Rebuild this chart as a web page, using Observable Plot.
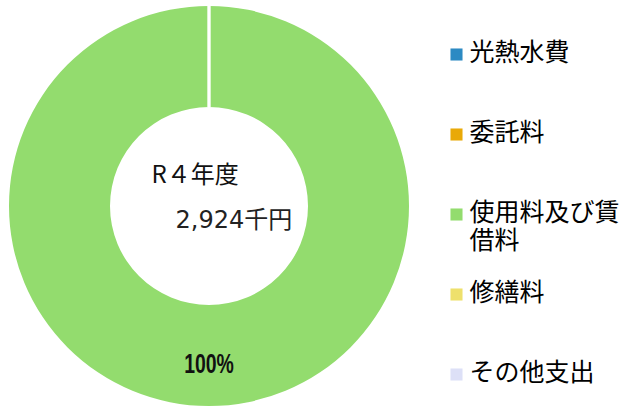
<!DOCTYPE html>
<html><head><meta charset="utf-8">
<script src="https://cdn.jsdelivr.net/npm/d3@7"></script>
<script src="https://cdn.jsdelivr.net/npm/@observablehq/plot@0.6"></script>
<style>
html,body{margin:0;padding:0;background:#fff;}
#chart svg{display:block;}
</style>
</head><body><div id="chart"></div>
<script>
// data
const categories = ["光熱水費", "委託料", "使用料及び賃借料", "修繕料", "その他支出"];
const legendLabels = ["光熱水費", "委託料", "使用料及び賃\n借料", "修繕料", "その他支出"];
const values = [0, 0, 2924, 0, 0]; // 千円
const colors = ["#2C8AC3", "#E9A908", "#93DC6E", "#EEE06C", "#DDE0F7"];
const yearLabel = "R４年度";
const unit = "千円";

const data = categories.map((c, i) => ({category: c, label: legendLabels[i], value: values[i]}));
const total = d3.sum(values);

// layout (style)
const CX = 209, CY = 206, R_OUT = 200, R_IN = 99;
const font = "'Noto Sans CJK JP', 'Noto Sans', sans-serif";

function donut(index, scales, channels, dimensions, context) {
  const color = scales.color || d3.scaleOrdinal(categories, colors);
  const pie = d3.pie().sort(null).value(d => d.value);
  const arcs = pie(data);
  const arc = d3.arc().innerRadius(R_IN).outerRadius(R_OUT);
  const g = d3.create("svg:g").attr("transform", `translate(${CX},${CY})`);
  g.selectAll("path.s").data(arcs.filter(a => a.data.value > 0)).join("path")
    .attr("class", "s").attr("d", arc).attr("fill", a => color(a.data.category));
  g.selectAll("path.b").data(arcs.filter(a => a.data.value === 0)).join("path")
    .attr("class", "b").attr("d", arc).attr("fill", "none")
    .attr("stroke", "#fff").attr("stroke-width", 2.5);
  const labelArc = d3.arc().innerRadius(157).outerRadius(157);
  g.selectAll("text").data(arcs.filter(a => a.data.value > 0)).join("text")
    .attr("transform", a => `translate(${labelArc.centroid(a)}) scale(0.72,1)`)
    .attr("text-anchor", "middle").attr("dy", "0.36em")
    .attr("font-family", "'Liberation Sans', Arial, sans-serif")
    .attr("font-size", 27).attr("font-weight", "bold").attr("fill", "#111")
    .text(a => d3.format(".0%")(a.data.value / total));
  return g.node();
}

const chart = Plot.plot({
  width: 621,
  height: 408,
  margin: 0,
  style: {fontFamily: font, background: "#fff"},
  y: {type: "point", domain: categories, range: [52, 375], padding: 0, axis: null},
  color: {domain: categories, range: colors},
  marks: [
    donut,
    Plot.text([yearLabel], {frameAnchor: "top-left", dx: 151, dy: 175, text: d => d,
      textAnchor: "start", fontSize: 24, fill: "#111", lineAnchor: "middle"}),
    Plot.text([total], {frameAnchor: "top-left", dx: 175, dy: 220, text: d => d3.format(",")(d) + unit,
      textAnchor: "start", fontSize: 24, fill: "#222", lineAnchor: "middle",
      fontFamily: "'DejaVu Sans', 'Noto Sans CJK JP', sans-serif"}),
    Plot.dot(data, {frameAnchor: "left", dx: 456, y: "category", fill: "category",
      symbol: "square", r: 6.8, stroke: null}),
    Plot.text(data, {frameAnchor: "left", dx: 469, y: "category", text: "label",
      textAnchor: "start", fontSize: 25, lineHeight: 1.12, lineAnchor: "top", dy: -13.5, fill: "#000"})
  ]
});
document.getElementById("chart").appendChild(chart);
</script>
</body></html>
